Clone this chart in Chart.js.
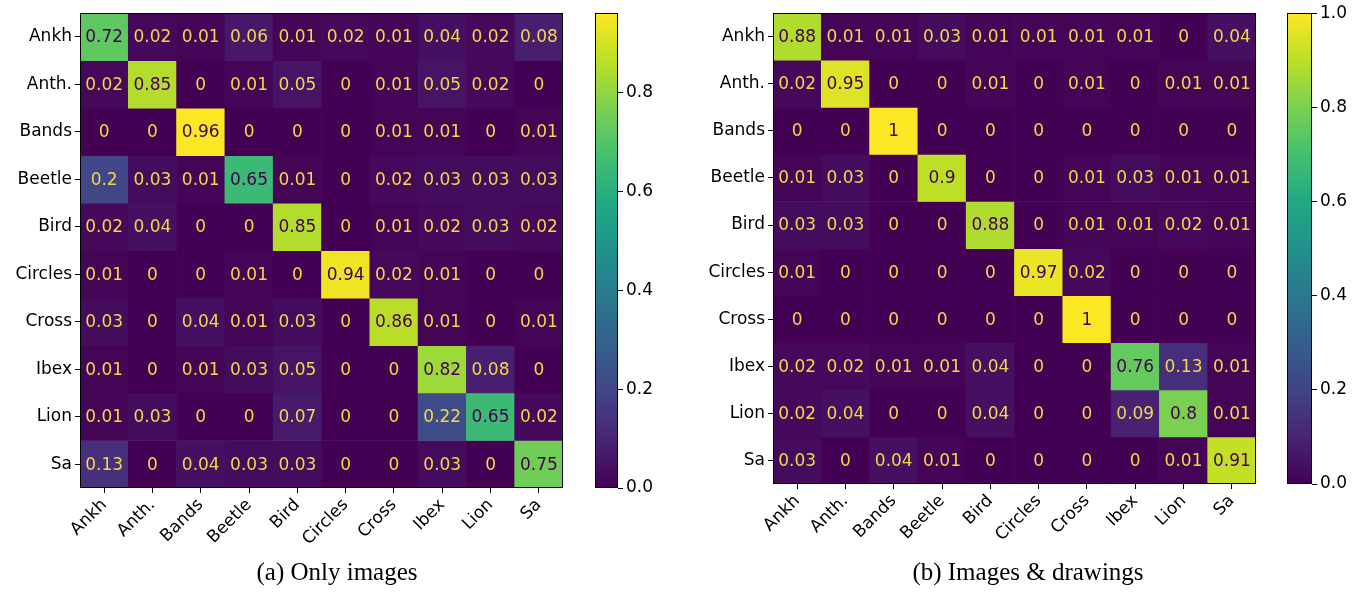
<!DOCTYPE html>
<html>
<head>
<meta charset="utf-8">
<script src="https://cdn.jsdelivr.net/npm/chart.js@4.4.1/dist/chart.umd.min.js"></script>
<style>
  body { margin: 0; background: #fff; }
  #wrap { position: relative; width: 1366px; height: 594px; overflow: hidden; }
  canvas { position: absolute; top: 0; }
  .cap { position: absolute; font-family: "Liberation Serif", "Times New Roman", serif; font-size: 25px; color: #000; white-space: nowrap; transform: translateX(-50%); top: 558px; }
</style>
</head>
<body>
<div id="wrap">
  <canvas id="matA" width="570" height="560" style="left:0px"></canvas>
  <canvas id="barA" width="100" height="560" style="left:590px"></canvas>
  <canvas id="matB" width="573" height="560" style="left:690px"></canvas>
  <canvas id="barB" width="84" height="560" style="left:1282px"></canvas>
  <div class="cap" style="left:337px">(a) Only images</div>
  <div class="cap" style="left:1028px">(b) Images &amp; drawings</div>
</div>
<script>
// classes (same for rows and columns)
var classes = ['Ankh', 'Anth.', 'Bands', 'Beetle', 'Bird', 'Circles', 'Cross', 'Ibex', 'Lion', 'Sa'];

// (a) only images
var onlyImages = [
  [0.72, 0.02, 0.01, 0.06, 0.01, 0.02, 0.01, 0.04, 0.02, 0.08],
  [0.02, 0.85, 0, 0.01, 0.05, 0, 0.01, 0.05, 0.02, 0],
  [0, 0, 0.96, 0, 0, 0, 0.01, 0.01, 0, 0.01],
  [0.2, 0.03, 0.01, 0.65, 0.01, 0, 0.02, 0.03, 0.03, 0.03],
  [0.02, 0.04, 0, 0, 0.85, 0, 0.01, 0.02, 0.03, 0.02],
  [0.01, 0, 0, 0.01, 0, 0.94, 0.02, 0.01, 0, 0],
  [0.03, 0, 0.04, 0.01, 0.03, 0, 0.86, 0.01, 0, 0.01],
  [0.01, 0, 0.01, 0.03, 0.05, 0, 0, 0.82, 0.08, 0],
  [0.01, 0.03, 0, 0, 0.07, 0, 0, 0.22, 0.65, 0.02],
  [0.13, 0, 0.04, 0.03, 0.03, 0, 0, 0.03, 0, 0.75]
];

// (b) images & drawings
var imagesDrawings = [
  [0.88, 0.01, 0.01, 0.03, 0.01, 0.01, 0.01, 0.01, 0, 0.04],
  [0.02, 0.95, 0, 0, 0.01, 0, 0.01, 0, 0.01, 0.01],
  [0, 0, 1, 0, 0, 0, 0, 0, 0, 0],
  [0.01, 0.03, 0, 0.9, 0, 0, 0.01, 0.03, 0.01, 0.01],
  [0.03, 0.03, 0, 0, 0.88, 0, 0.01, 0.01, 0.02, 0.01],
  [0.01, 0, 0, 0, 0, 0.97, 0.02, 0, 0, 0],
  [0, 0, 0, 0, 0, 0, 1, 0, 0, 0],
  [0.02, 0.02, 0.01, 0.01, 0.04, 0, 0, 0.76, 0.13, 0.01],
  [0.02, 0.04, 0, 0, 0.04, 0, 0, 0.09, 0.8, 0.01],
  [0.03, 0, 0.04, 0.01, 0, 0, 0, 0, 0.01, 0.91]
];

// colorbar ticks
var ticksA = [0, 0.2, 0.4, 0.6, 0.8];
var ticksB = [0, 0.2, 0.4, 0.6, 0.8, 1.0];

// viridis colormap
var viridis = ['#440154', '#482475', '#414487', '#355f8d', '#2a788e', '#21918c',
               '#22a884', '#44bf70', '#7ad151', '#bddf26', '#fde725'];

function hex2rgb(h) {
  return [parseInt(h.substr(1, 2), 16), parseInt(h.substr(3, 2), 16), parseInt(h.substr(5, 2), 16)];
}
function cmap(t) {
  t = Math.max(0, Math.min(1, t));
  var p = t * (viridis.length - 1);
  var i = Math.min(Math.floor(p), viridis.length - 2);
  var f = p - i;
  var a = hex2rgb(viridis[i]), b = hex2rgb(viridis[i + 1]);
  var c = a.map(function (v, k) { return Math.round(v + (b[k] - v) * f); });
  return 'rgb(' + c.join(',') + ')';
}

var FONT = { family: 'DejaVu Sans', size: 17 };
Chart.defaults.font.family = FONT.family;
Chart.defaults.font.size = FONT.size;
Chart.defaults.color = '#000';

// black frame round the plot area
var framePlugin = {
  id: 'frame',
  afterDraw: function (chart) {
    var a = chart.chartArea, c = chart.ctx;
    c.save();
    c.strokeStyle = '#000';
    c.lineWidth = 1;
    c.strokeRect(Math.round(a.left) + 0.5, Math.round(a.top) + 0.5,
                 Math.round(a.right - a.left) - 1, Math.round(a.bottom - a.top) - 1);
    c.restore();
  }
};

// numbers inside the cells
var cellText = {
  id: 'cellText',
  afterDatasetsDraw: function (chart, args, opts) {
    var m = opts.matrix, vmax = opts.vmax;
    var xs = chart.scales.x, ys = chart.scales.y, c = chart.ctx;
    c.save();
    c.font = FONT.size + 'px ' + FONT.family;
    c.textAlign = 'center';
    c.textBaseline = 'middle';
    m.forEach(function (row, r) {
      row.forEach(function (v, k) {
        c.fillStyle = v > vmax / 2 ? viridis[0] : '#f0d84a';
        c.fillText(String(v), xs.getPixelForValue(k), ys.getPixelForValue(r) + 1);
      });
    });
    c.restore();
  }
};

function makeMatrix(id, matrix, yWidth, xHeight, padTop, padRight) {
  var vmax = Math.max.apply(null, matrix.map(function (r) { return Math.max.apply(null, r); }));
  var datasets = matrix.map(function (row, r) {
    return {
      label: classes[r],
      data: row.map(function () { return [r - 0.5, r + 0.5]; }),
      backgroundColor: row.map(function (v) { return cmap(v / vmax); }),
      borderWidth: 0,
      grouped: false,
      barPercentage: 1,
      categoryPercentage: 1
    };
  });
  return new Chart(document.getElementById(id), {
    type: 'bar',
    data: { labels: classes, datasets: datasets },
    plugins: [cellText, framePlugin],
    options: {
      responsive: false,
      animation: false,
      layout: { padding: { top: padTop, right: padRight, left: 0, bottom: 0 } },
      plugins: {
        legend: { display: false },
        tooltip: { enabled: false },
        cellText: { matrix: matrix, vmax: vmax }
      },
      scales: {
        x: {
          type: 'category',
          offset: true,
          grid: { offset: false, drawOnChartArea: false, tickLength: 5, color: '#000' },
          border: { display: false },
          ticks: { minRotation: 45, maxRotation: 45, autoSkip: false, padding: 2 },
          afterFit: function (s) { s.height = xHeight; }
        },
        y: {
          type: 'linear',
          min: -0.5,
          max: 9.5,
          reverse: true,
          grid: { drawOnChartArea: false, tickLength: 5, color: '#000' },
          border: { display: false },
          afterBuildTicks: function (s) {
            s.ticks = classes.map(function (_, i) { return { value: i }; });
          },
          ticks: {
            autoSkip: false,
            padding: 3,
            callback: function (v) { return classes[v]; }
          },
          afterFit: function (s) { s.width = yWidth; }
        }
      }
    }
  });
}

function makeColorbar(id, vmax, ticks, padTop, padBottom, yWidth) {
  return new Chart(document.getElementById(id), {
    type: 'bar',
    data: {
      labels: [''],
      datasets: [{
        data: [vmax],
        borderWidth: 0,
        barPercentage: 1,
        categoryPercentage: 1,
        backgroundColor: function (ctx) {
          var a = ctx.chart.chartArea;
          if (!a) return viridis[0];
          var g = ctx.chart.ctx.createLinearGradient(0, a.bottom, 0, a.top);
          viridis.forEach(function (col, i) { g.addColorStop(i / (viridis.length - 1), col); });
          return g;
        }
      }]
    },
    plugins: [framePlugin],
    options: {
      responsive: false,
      animation: false,
      layout: { padding: { top: padTop, bottom: padBottom, left: 5, right: 0 } },
      plugins: { legend: { display: false }, tooltip: { enabled: false } },
      scales: {
        x: { display: false },
        y: {
          position: 'right',
          min: 0,
          max: vmax,
          grid: { drawOnChartArea: false, tickLength: 5, color: '#000' },
          border: { display: false },
          afterBuildTicks: function (s) {
            s.ticks = ticks.map(function (v) { return { value: v }; });
          },
          ticks: {
            padding: 3,
            callback: function (v) { return v.toFixed(1); }
          },
          afterFit: function (s) { s.width = yWidth; }
        }
      }
    }
  });
}

var vmaxA = Math.max.apply(null, onlyImages.map(function (r) { return Math.max.apply(null, r); }));
var vmaxB = Math.max.apply(null, imagesDrawings.map(function (r) { return Math.max.apply(null, r); }));

makeMatrix('matA', onlyImages, 80, 72, 7, 7);
makeColorbar('barA', vmaxA, ticksA, 7, 72, 72);
makeMatrix('matB', imagesDrawings, 83, 76, 3, 7);
makeColorbar('barB', vmaxB, ticksB, 3, 76, 54);
</script>
</body>
</html>
